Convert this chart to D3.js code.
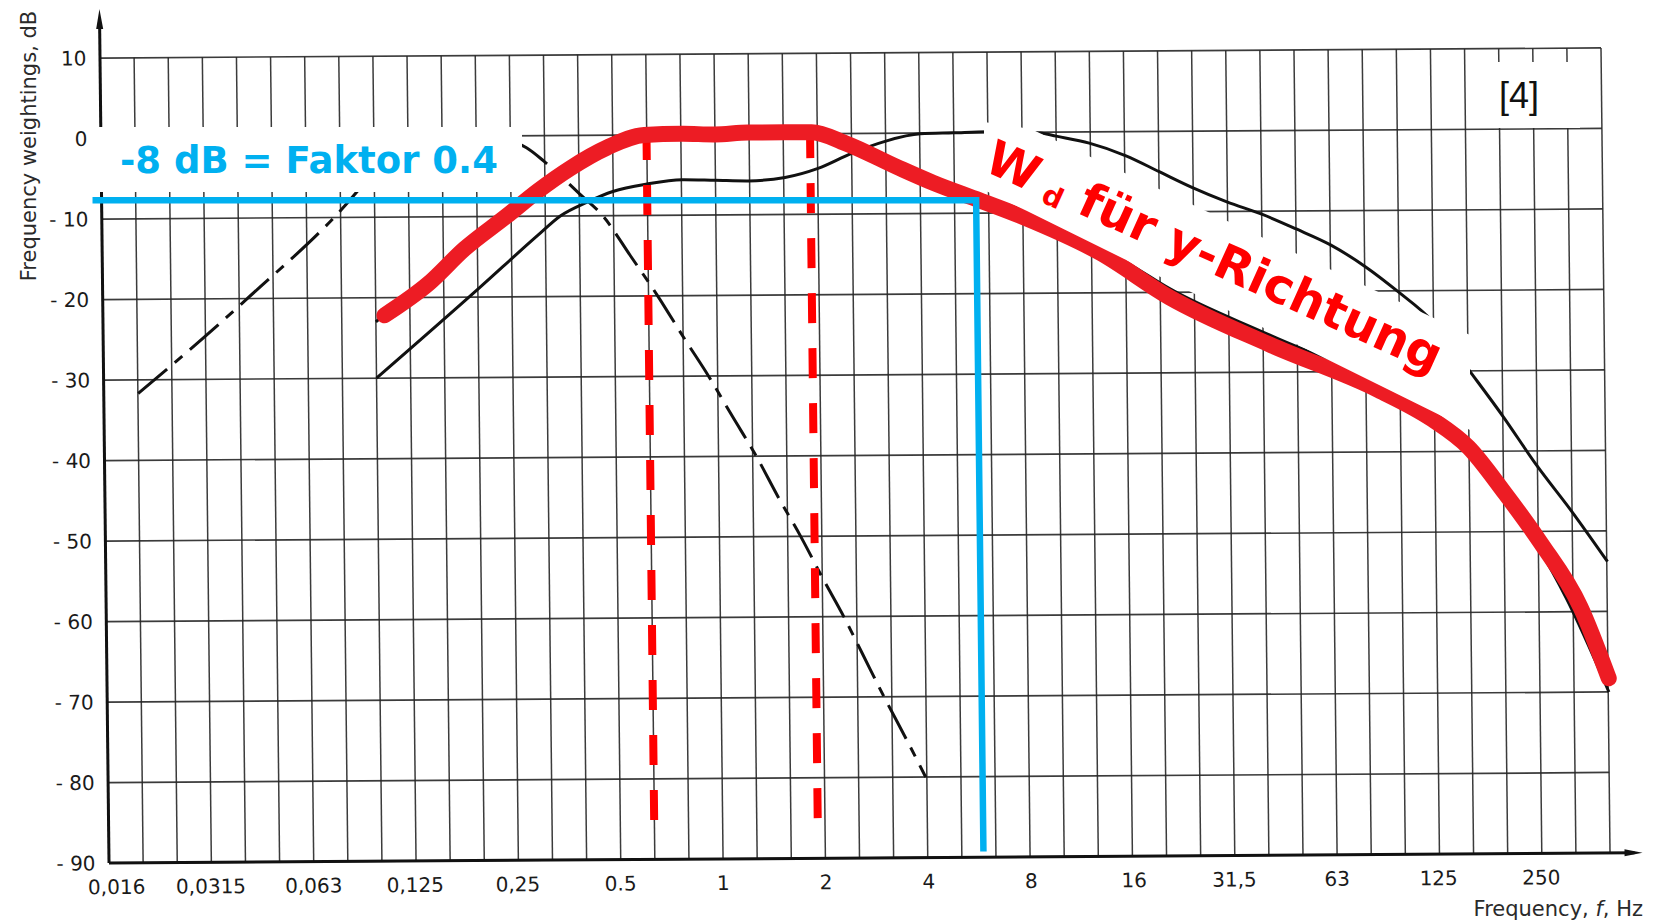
<!DOCTYPE html>
<html><head><meta charset="utf-8">
<script src="https://cdn.jsdelivr.net/npm/d3@7"></script>
<style>html,body{margin:0;padding:0;background:#fff;} svg{display:block;}</style>
</head><body>
<svg id="chart" width="1655" height="923"></svg>
<script>
// ---------- data (frequency in Hz, weighting in dB) ----------
const xTickValues = [0.016,0.0315,0.063,0.125,0.25,0.5,1,2,4,8,16,31.5,63,125,250];
const xTickLabels = ["0,016","0,0315","0,063","0,125","0,25","0.5","1","2","4","8","16","31,5","63","125","250"];
const yTickValues = [10,0,-10,-20,-30,-40,-50,-60,-70,-80,-90];
const yTickLabels = ["10","0","- 10","- 20","- 30","- 40","- 50","- 60","- 70","- 80","- 90"];

// dashed curve (Wf)
const wfCurve = [[0.02,-31.7],[0.0418,-20.1],[0.089,-6.8],[0.1,-4.2],[0.125,-1.8],[0.16,-0.4],[0.2,0],[0.25,-0.6],[0.28,-1.5],[0.315,-3.2],[0.4,-7.3],[0.466,-10],[0.56,-15],[0.671,-20],[0.8,-25.3],[0.94,-30],[1.1,-35],[1.29,-40],[1.5,-45.3],[1.73,-50],[2,-55.2],[2.3,-60],[2.6,-64.6],[3.0,-70],[3.45,-75],[3.95,-80]];
// solid curve (Wk)
const wkCurve = [[0.1,-30],[0.2,-19],[0.3,-12.4],[0.35,-10],[0.42,-8.3],[0.5,-7],[0.63,-6.1],[0.8,-5.6],[1,-5.7],[1.25,-5.8],[1.6,-5.4],[2,-4.3],[2.5,-2.5],[3.15,-1],[4,-0.1],[5,0],[6.3,0.1],[8,0],[9,-0.1],[10,-0.5],[12.5,-1.4],[16,-3],[20,-5],[25,-7],[31.5,-8.8],[40,-10.4],[50,-12.2],[63,-14.2],[80,-17],[100,-20.2],[125,-23.8],[160,-30],[200,-35.7],[250,-41.8],[315,-47.5],[400,-53.8]];
// solid curve (Wd), mostly under the red trace
const wdCurve = [[0.1,-23],[0.2,-12.5],[0.3,-6.8],[0.4,-3.3],[0.5,-1.6],[0.63,-0.3],[0.8,0],[1,0],[1.6,0],[1.95,-0.2],[2.41,-1.0],[3.41,-4.0],[4.35,-6.0],[5.93,-8.2],[7.93,-10.3],[13.3,-14.4],[16.3,-16.5],[21.2,-19.5],[41.7,-25.4],[86.3,-31.5],[124,-35.8],[158,-39.8],[201,-46],[255,-52.5],[302,-58.3],[400,-70]];
// red hand-drawn trace (Wd, y direction)
const redTrace = [[0.106,-22.2],[0.143,-18.3],[0.183,-14],[0.243,-10],[0.303,-6.8],[0.375,-4.1],[0.482,-1.55],[0.62,0],[0.8,0.1],[1,0],[1.25,0.2],[1.6,0.2],[1.92,0.2],[2.41,-1.2],[3.41,-4.2],[4.35,-6.2],[5.93,-8.4],[7.93,-10.5],[13.3,-15],[21.2,-20.6],[41.8,-26.6],[86.3,-32.3],[124,-36],[158,-39.5],[201,-45.2],[255,-51.4],[332,-59.4],[400,-68.3]];
// red dashed markers: [frequency, top dB, bottom dB]
const redMarkers = [[0.63,0.6,-86.8],[1.9,0.7,-86.5]];
// blue construction: level line from fStart to fCorner, then down
const blueLevel = -8.4;
const blueFreqs = [0.0149, 5.8];
const blueBottom = -89.3;

// ---------- scales ----------
const svg = d3.select("#chart");
const x = d3.scaleLog().domain([Math.pow(10,-1.8), Math.pow(10,2.6)]).range([104.5, 1605.5]);
const y = d3.scaleLinear().domain([-90, 10]).range([858, 53]);

// scanned sheet is slightly skewed
const M = {a:1, b:-0.0067, c:0.0112, d:1, e:-5.096, f:5.7285};
const tf = (px, py) => [M.a*px + M.c*py + M.e, M.b*px + M.d*py + M.f];
const g = svg.append("g").attr("transform", `matrix(${M.a},${M.b},${M.c},${M.d},${M.e},${M.f})`);

// grid
const gridFreqs = d3.range(0, 45).map(k => Math.pow(10, -1.8 + k/10));
g.append("g").selectAll("line").data(gridFreqs).join("line")
  .attr("x1", d => x(d)).attr("x2", d => x(d))
  .attr("y1", y(10)).attr("y2", y(-90))
  .attr("stroke", "#262626").attr("stroke-width", 1.5).attr("stroke-opacity", 0.9);
g.append("g").selectAll("line").data(yTickValues).join("line")
  .attr("x1", x.range()[0]).attr("x2", x.range()[1])
  .attr("y1", d => y(d)).attr("y2", d => y(d))
  .attr("stroke", "#262626").attr("stroke-width", 1.7).attr("stroke-opacity", 0.9);

// axes
g.append("line").attr("x1", x.range()[0]).attr("x2", 1630).attr("y1", y(-90)).attr("y2", y(-90))
  .attr("stroke", "#111").attr("stroke-width", 3);
g.append("path").attr("d", `M1638,${y(-90)} L1620,${y(-90)-3.5} L1620,${y(-90)+3.5}Z`).attr("fill", "#111");
g.append("line").attr("x1", x.range()[0]).attr("x2", x.range()[0]).attr("y1", y(-90)).attr("y2", 18)
  .attr("stroke", "#111").attr("stroke-width", 3);
g.append("path").attr("d", `M${x.range()[0]},4 L${x.range()[0]-3.5},24 L${x.range()[0]+3.5},24Z`).attr("fill", "#111");

// tick labels
g.append("g").selectAll("text").data(xTickValues).join("text")
  .attr("x", (d,i) => x(d) + (i === 0 ? 6 : 0)).attr("y", 889)
  .attr("text-anchor", "middle").attr("font-family", "DejaVu Sans").attr("font-size", 20)
  .attr("fill", "#1a1a1a").text((d,i) => xTickLabels[i]);
g.append("g").selectAll("text").data(yTickValues).join("text")
  .attr("x", 91).attr("y", d => y(d)).attr("dy", "0.36em")
  .attr("text-anchor", "end").attr("font-family", "DejaVu Sans").attr("font-size", 20)
  .attr("fill", "#1a1a1a").text((d,i) => yTickLabels[i]);

// black curves
const lineGen = d3.line().x(d => x(d[0])).y(d => y(d[1])).curve(d3.curveMonotoneX);
g.append("path").attr("d", lineGen(wfCurve)).attr("fill", "none").attr("stroke", "#111")
  .attr("stroke-width", 3).attr("stroke-dasharray", "38,10,10,10");
g.append("path").attr("d", lineGen(wkCurve)).attr("fill", "none").attr("stroke", "#111").attr("stroke-width", 3);
g.append("path").attr("d", lineGen(wdCurve)).attr("fill", "none").attr("stroke", "#111").attr("stroke-width", 3);

// red dashed markers
g.append("g").selectAll("line").data(redMarkers).join("line")
  .attr("x1", d => x(d[0])).attr("x2", d => x(d[0]))
  .attr("y1", d => y(d[1])).attr("y2", d => y(d[2]))
  .attr("stroke", "#ff0000").attr("stroke-width", 8).attr("stroke-dasharray", "30,25");

// red trace
g.append("path").attr("d", lineGen(redTrace)).attr("fill", "none").attr("stroke", "#ed1c24")
  .attr("stroke-width", 16).attr("stroke-linecap", "round").attr("stroke-linejoin", "round");

// blue construction lines (drawn on the page, horizontal on screen)
const corner = tf(x(blueFreqs[1]), y(blueLevel));
const leftEnd = tf(x(blueFreqs[0]), y(blueLevel));
const bottomEnd = tf(x(blueFreqs[1]), y(blueBottom));
svg.append("path")
  .attr("d", d3.line()([[leftEnd[0], corner[1]], corner, bottomEnd]))
  .attr("fill", "none").attr("stroke", "#00b0f0").attr("stroke-width", 6.5).attr("stroke-linejoin", "miter");

// ---------- annotations on top of the scan ----------
svg.append("rect").attr("x", 96).attr("y", 127).attr("width", 426).attr("height", 65).attr("fill", "#fff");
svg.append("text").attr("x", 120).attr("y", 173).attr("font-family", "DejaVu Sans").attr("font-weight", "bold")
  .attr("font-size", 37).attr("fill", "#00b0f0").text("-8 dB = Faktor 0.4");

svg.append("polygon")
  .attr("points", "984,122 1031,129 1470,335 1470,430 1280,336 1027,211 984,190")
  .attr("fill", "#fff");
const lab = svg.append("text").attr("transform", "translate(982,170) rotate(24.3)")
  .attr("font-family", "DejaVu Sans").attr("font-weight", "bold").attr("font-size", 48.5).attr("fill", "#ff0000");
lab.append("tspan").text("W");
lab.append("tspan").attr("font-size", 28).attr("dx", 12).attr("dy", 5).text("d");
lab.append("tspan").attr("dy", -5).text(" für y-Richtung");

svg.append("rect").attr("x", 1470).attr("y", 62).attr("width", 110).attr("height", 66).attr("fill", "#fff");
svg.append("text").attr("x", 1519).attr("y", 108).attr("text-anchor", "middle")
  .attr("font-family", "Liberation Sans").attr("font-size", 36).attr("fill", "#111").text("[4]");

// axis titles
svg.append("text").attr("transform", "translate(36,146) rotate(-90)").attr("text-anchor", "middle")
  .attr("font-family", "DejaVu Sans").attr("font-size", 21).attr("fill", "#2a2a2a").text("Frequency weightings, dB");
const xt = svg.append("text").attr("x", 1643).attr("y", 916).attr("text-anchor", "end")
  .attr("font-family", "DejaVu Sans").attr("font-size", 21).attr("fill", "#2a2a2a");
xt.append("tspan").text("Frequency, ");
xt.append("tspan").attr("font-style", "italic").text("f");
xt.append("tspan").text(", Hz");
</script>
</body></html>
